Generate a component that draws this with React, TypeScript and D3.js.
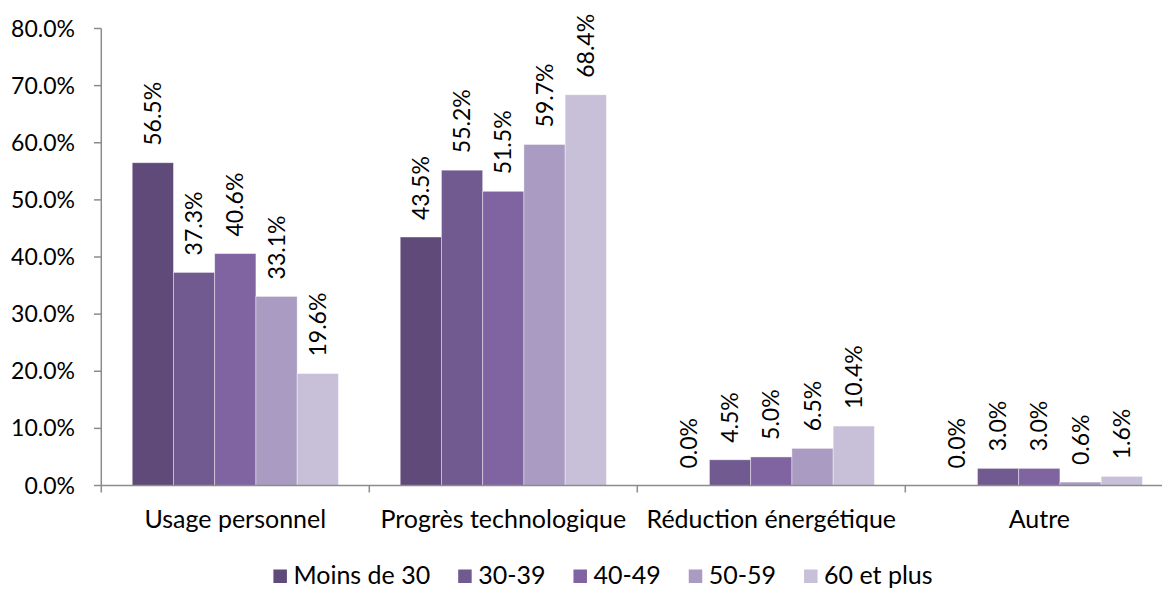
import React from "react";
import * as d3 from "d3";

const categories = ["Usage personnel", "Progrès technologique", "Réduction énergétique", "Autre"];
const seriesNames = ["Moins de 30", "30-39", "40-49", "50-59", "60 et plus"];
const moinsDe30 = [56.5, 43.5, 0.0, 0.0];
const s30to39 = [37.3, 55.2, 4.5, 3.0];
const s40to49 = [40.6, 51.5, 5.0, 3.0];
const s50to59 = [33.1, 59.7, 6.5, 0.6];
const s60plus = [19.6, 68.4, 10.4, 1.6];
const yTicks = [0, 10, 20, 30, 40, 50, 60, 70, 80];
const colors = ["#5F4A7A", "#715A8F", "#8064A2", "#A99BC1", "#C8C0D8"];

const seriesValues = [moinsDe30, s30to39, s40to49, s50to59, s60plus];

const FONT = "Lato, 'Liberation Sans', sans-serif";
const FS_NUM = 23;
const FS_TXT = 25;

function measure(text: string, size: number) {
  const c = document.createElement("canvas");
  const ctx = c.getContext("2d")!;
  ctx.font = `${size}px Lato`;
  return ctx.measureText(text).width;
}

export default function App() {
  const W = 1162, H = 590;
  const y = d3.scaleLinear().domain([0, 80]).range([485.5, 28.5]);
  const x0 = d3.scaleBand<string>().domain(categories).range([101.3, 1173.3]);
  const x1 = d3.scaleBand<string>().domain(seriesNames).range([0, x0.bandwidth()]).paddingOuter(0.75);
  const axisColor = "#8C8C8C";

  // legend layout
  const sq = 13.5, gapSq = 6.5, gapItem = 28;
  const widths = seriesNames.map((s) => measure(s, FS_TXT));
  const total = widths.reduce((a, w) => a + sq + gapSq + w, 0) + gapItem * (seriesNames.length - 1);
  let lx = 603 - total / 2;
  const legendItems = seriesNames.map((s, i) => {
    const item = { name: s, x: lx, color: colors[i] };
    lx += sq + gapSq + widths[i] + gapItem;
    return item;
  });

  return (
    <svg width={W} height={H} style={{ position: "absolute", left: 0, top: 0, overflow: "hidden" }} fontFamily={FONT}>
      <rect x={0} y={0} width={W} height={H} fill="#ffffff" />
      {/* bars */}
      {categories.map((c, ci) => (
        <g key={c} transform={`translate(${x0(c)},0)`}>
          {seriesNames.map((s, si) => {
            const v = seriesValues[si][ci];
            return (
              <rect key={s} x={x1(s)} y={y(v)} width={x1.bandwidth()} height={y(0) - y(v)}
                fill={colors[si]} stroke="#ffffff" strokeOpacity={0.5} strokeWidth={0.8} />
            );
          })}
          {seriesNames.map((s, si) => {
            const v = seriesValues[si][ci];
            const cx = (x1(s) as number) + x1.bandwidth() / 2;
            const ty = y(v) - 17;
            return (
              <text key={s} transform={`translate(${cx},${ty}) rotate(-90)`} dy="0.35em"
                fontSize={FS_NUM} fill="#000">{v.toFixed(1) + "%"}</text>
            );
          })}
        </g>
      ))}
      {/* y axis */}
      <line x1={101.3} x2={101.3} y1={y(80)} y2={y(0)} stroke={axisColor} strokeWidth={1.5} />
      {yTicks.map((t) => (
        <g key={t}>
          <line x1={94} x2={101.3} y1={y(t)} y2={y(t)} stroke={axisColor} strokeWidth={1.5} />
          <text x={75} y={y(t)} dy="0.35em" textAnchor="end" fontSize={FS_NUM} fill="#000">{t.toFixed(1) + "%"}</text>
        </g>
      ))}
      {/* x axis */}
      <line x1={101.3} x2={W + 20} y1={y(0)} y2={y(0)} stroke={axisColor} strokeWidth={1.5} />
      {categories.map((c) => (
        <line key={c} x1={x0(c)} x2={x0(c)} y1={y(0)} y2={y(0) + 7} stroke={axisColor} strokeWidth={1.5} />
      ))}
      {categories.map((c) => (
        <text key={c} x={(x0(c) as number) + x0.bandwidth() / 2} y={528} textAnchor="middle" fontSize={FS_TXT} fill="#000">{c}</text>
      ))}
      {/* legend */}
      {legendItems.map((it) => (
        <g key={it.name}>
          <rect x={it.x} y={569.5} width={sq} height={sq} fill={it.color} />
          <text x={it.x + sq + gapSq} y={584} fontSize={FS_TXT} fill="#000">{it.name}</text>
        </g>
      ))}
    </svg>
  );
}
